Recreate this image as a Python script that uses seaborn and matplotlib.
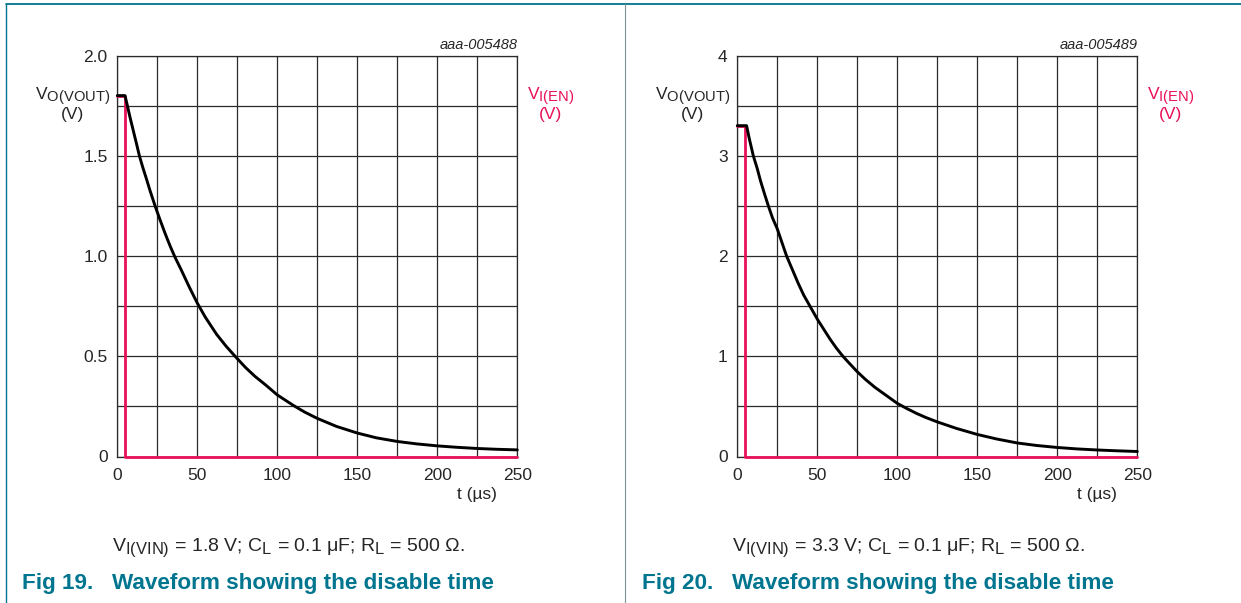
import numpy as np
import pandas as pd
import matplotlib
matplotlib.use("Agg")
import matplotlib.pyplot as plt
import matplotlib._mathtext as _mathtext
from matplotlib.lines import Line2D
from matplotlib.ticker import MultipleLocator
import seaborn as sns

sns.set_style("white")
plt.rcParams["font.family"] = ["Liberation Sans", "DejaVu Sans"]
plt.rcParams["mathtext.fontset"] = "custom"
plt.rcParams["mathtext.rm"] = "Liberation Sans"
plt.rcParams["mathtext.it"] = "Liberation Sans:italic"
plt.rcParams["mathtext.bf"] = "Liberation Sans:bold"
# datasheet-style subscripts are only slightly smaller than the base text
_mathtext.SHRINK_FACTOR = 0.85

# Fig 19: V_I(VIN) = 1.8 V
t_out_19 = [0, 4.8, 6.3, 8, 10, 12, 13.8, 16, 18, 20.5, 23.6, 26.5, 30, 33, 36, 40,
            45, 50, 55, 62, 68, 73.6, 80, 86, 93, 100, 110, 117, 125, 137, 150,
            162, 175, 187, 200, 212, 225, 237, 250]
v_out_19 = [1.8, 1.8, 1.75, 1.69, 1.625, 1.56, 1.5, 1.44, 1.39, 1.325, 1.25, 1.185,
            1.11, 1.05, 0.995, 0.93, 0.845, 0.765, 0.695, 0.61, 0.55, 0.5, 0.445,
            0.40, 0.355, 0.307, 0.255, 0.222, 0.19, 0.15, 0.117, 0.093, 0.075,
            0.063, 0.053, 0.046, 0.04, 0.036, 0.033]
t_en_19 = [0, 4.5, 4.5, 250]
v_en_19 = [1.8, 1.8, 0, 0]

# Fig 20: V_I(VIN) = 3.3 V
t_out_20 = [0, 5.8, 7.5, 10, 12.5, 14.5, 17, 19.4, 22, 25, 28, 30.8, 34, 38, 41.5,
            45.4, 50, 54, 58, 62, 66, 70, 75, 80, 86, 93, 100, 106, 112, 118, 125,
            137, 150, 162, 175, 187, 200, 212, 225, 237, 250]
v_out_20 = [3.3, 3.3, 3.17, 3.0, 2.87, 2.75, 2.62, 2.5, 2.38, 2.27, 2.13, 2.0, 1.88,
            1.73, 1.61, 1.5, 1.37, 1.27, 1.17, 1.08, 1.0, 0.93, 0.845, 0.77, 0.69,
            0.61, 0.53, 0.478, 0.43, 0.388, 0.345, 0.28, 0.22, 0.175, 0.135, 0.11,
            0.09, 0.076, 0.065, 0.057, 0.05]
t_en_20 = [0, 5, 5, 250]
v_en_20 = [3.3, 3.3, 0, 0]

x_ticks = [0, 50, 100, 150, 200, 250]
y_ticks_19 = [0, 0.5, 1.0, 1.5, 2.0]
y_labels_19 = ["0", "0.5", "1.0", "1.5", "2.0"]
y_ticks_20 = [0, 1, 2, 3, 4]
y_labels_20 = ["0", "1", "2", "3", "4"]

ids = ["aaa-005488", "aaa-005489"]
conditions = [
    r"V$_{\mathrm{I(VIN)}}$ = 1.8 V; C$_{\mathrm{L}}$ = 0.1 μF; R$_{\mathrm{L}}$ = 500 Ω.",
    r"V$_{\mathrm{I(VIN)}}$ = 3.3 V; C$_{\mathrm{L}}$ = 0.1 μF; R$_{\mathrm{L}}$ = 500 Ω.",
]
titles = ["Fig 19.   Waveform showing the disable time",
          "Fig 20.   Waveform showing the disable time"]

TEAL = "#00758F"
PINK = "#E8105A"
W, H = 1241, 603

fig = plt.figure(figsize=(W / 100, H / 100), dpi=100)

# page frame and column separator
fig.add_artist(Line2D([6 / W, 1], [1 - 4 / H, 1 - 4 / H], color=TEAL, lw=1.3))
fig.add_artist(Line2D([6 / W, 6 / W], [0, 1 - 4 / H], color=TEAL, lw=1.0))
fig.add_artist(Line2D([625 / W, 625 / W], [0, 1 - 4 / H], color="#7f8f96", lw=0.8))

panels = [
    (t_out_19, v_out_19, t_en_19, v_en_19, y_ticks_19, y_labels_19, 2.0, 0.25),
    (t_out_20, v_out_20, t_en_20, v_en_20, y_ticks_20, y_labels_20, 4.0, 0.5),
]

ax_left0, ax_w = 117.3, 400.0
ax_top, ax_bot = 55.5, 456.5
shift = 620.0

for i, (to, vo, te, ve, yt, yl, ymax, yminor) in enumerate(panels):
    dx = shift * i
    ax = fig.add_axes([(ax_left0 + dx) / W, 1 - ax_bot / H,
                       ax_w / W, (ax_bot - ax_top) / H])
    df_out = pd.DataFrame({"t": to, "v": vo})
    df_en = pd.DataFrame({"t": te, "v": ve})
    sns.lineplot(data=df_en, x="t", y="v", ax=ax, color=PINK, lw=2.0,
                 estimator=None, sort=False, zorder=3, clip_on=False)
    sns.lineplot(data=df_out, x="t", y="v", ax=ax, color="black", lw=2.1,
                 estimator=None, sort=False, zorder=4, clip_on=False)

    ax.set_xlim(0, 250)
    ax.set_ylim(0, ymax)
    ax.set_xticks(x_ticks)
    ax.set_xticklabels([str(v) for v in x_ticks])
    ax.xaxis.set_minor_locator(MultipleLocator(25))
    ax.set_yticks(yt)
    ax.set_yticklabels(yl)
    ax.yaxis.set_minor_locator(MultipleLocator(yminor))
    ax.grid(which="both", color="#2a2a2a", lw=0.9)
    ax.tick_params(axis="x", which="both", length=0, pad=8, labelsize=12.5)
    ax.tick_params(axis="y", which="both", length=4, width=0.9, direction="out",
                   color="#2a2a2a", pad=3, labelsize=12.5)
    ax.set_xlabel("")
    ax.set_ylabel("")
    for s in ax.spines.values():
        s.set_color("#2a2a2a")
        s.set_linewidth(0.9)

    # axis titles
    fig.text((73 + dx) / W, 1 - 97 / H, r"V$_{\mathrm{O(VOUT)}}$", ha="center",
             va="center", fontsize=12.5)
    fig.text((73 + dx) / W, 1 - 114 / H, "(V)", ha="center", va="center",
             fontsize=12.5)
    fig.text((551 + dx) / W, 1 - 97 / H, r"V$_{\mathrm{I(EN)}}$", ha="center",
             va="center", fontsize=12.5, color=PINK)
    fig.text((551 + dx) / W, 1 - 114 / H, "(V)", ha="center", va="center",
             fontsize=12.5, color=PINK)
    fig.text((497 + dx) / W, 1 - 495 / H, "t (µs)", ha="right", va="center",
             fontsize=12.5)
    fig.text((518 + dx) / W, 1 - 45 / H, ids[i], ha="right", va="center",
             fontsize=10.5, style="italic")

    # captions
    fig.text((112 + dx) / W, 1 - 548 / H, conditions[i], ha="left", va="center",
             fontsize=14)
    fig.text((22 + dx) / W, 1 - 583 / H, titles[i], ha="left", va="center",
             fontsize=16.2, fontweight="bold", color=TEAL)

fig.savefig("out.png", dpi=100)
